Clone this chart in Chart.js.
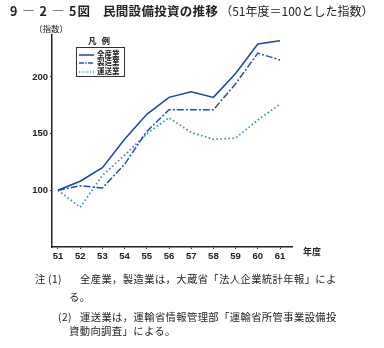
<!DOCTYPE html>
<html>
<head>
<meta charset="utf-8">
<script src="https://cdn.jsdelivr.net/npm/chart.js@4.4.1/dist/chart.umd.min.js"></script>
<style>
  html, body { margin: 0; padding: 0; background: #fff; }
  #wrap { position: relative; width: 384px; height: 348px; overflow: hidden;
    font-family: "Noto Sans CJK JP", "Noto Sans", sans-serif; color: #222; }
  #wrap canvas { position: absolute; left: 0; top: 0; }
  .t { position: absolute; white-space: nowrap; line-height: 1; }
  #title { left: 10px; top: 5px; font-size: 12.5px; font-weight: bold; }
  #title .num { letter-spacing: 1px; }
  #title .main { margin-left: 12px; letter-spacing: 0.3px; }
  #title .sub { font-size: 12px; font-weight: normal; margin-left: 2px; }
  #unit { left: 34px; top: 24px; font-size: 8.5px; }
  #year { left: 303px; top: 247px; font-size: 9px; font-weight: bold; }
  #legTitle { left: 88px; top: 36px; font-size: 8.5px; font-weight: bold; letter-spacing: 5px; }
  #legend { position: absolute; left: 76px; top: 47px; width: 49px; height: 30px;
    border: 1.2px solid #333; box-sizing: border-box; }
  .li { position: absolute; left: 2px; width: 45px; height: 8px; font-size: 7.5px; font-weight: bold; white-space: nowrap; line-height: 1; }
  .li svg { position: absolute; left: 0; top: 2px; }
  .li span { position: absolute; left: 18px; top: -1px; }
  .note { font-size: 10.3px; letter-spacing: 0.4px; }
</style>
</head>
<body>
<div id="wrap">
  <canvas id="c" width="384" height="348"></canvas>
  <div class="t" id="title"><span class="num">9 ― 2 ― 5図</span><span class="main">民間設備投資の推移</span><span class="sub">（51年度＝100とした指数）</span></div>
  <div class="t" id="unit">（指数）</div>
  <div class="t" id="year">年度</div>
  <div class="t" id="legTitle">凡例</div>
  <div id="legend"></div>
  <div class="t note" style="left:35px;top:274px;">注</div>
  <div class="t note" style="left:48px;top:274px;">(1)</div>
  <div class="t note" style="left:80px;top:274px;">全産業，製造業は，大蔵省「法人企業統計年報」によ</div>
  <div class="t note" style="left:69px;top:292px;">る。</div>
  <div class="t note" style="left:58px;top:312px;">(2)</div>
  <div class="t note" style="left:80px;top:312px;">運送業は，運輸省情報管理部「運輸省所管事業設備投</div>
  <div class="t note" style="left:69px;top:326px;">資動向調査」による。</div>
</div>
<script>
  const years = [51, 52, 53, 54, 55, 56, 57, 58, 59, 60, 61];
  const allIndustry = [100, 108, 120, 145, 167, 182, 187, 182, 203, 229, 232];
  const manufacturing = [100, 104, 102, 123, 152, 171, 171, 171, 194, 221, 215];
  const transport = [100, 85, 113, 131, 150, 164, 151, 145, 146, 162, 176];
  const yTicks = [100, 150, 200];

  const seriesNames = ['全産業', '製造業', '運送業'];
  const seriesColors = ['#1644b4', '#1a50c4', '#3a84e4'];
  const seriesDash = [[], [7, 2, 2, 2], [1.5, 2.5]];

  const toPoints = (vals) => vals.map((v, i) => ({ x: years[i], y: v }));

  // legend built in HTML so the text stays text
  const leg = document.getElementById('legend');
  seriesNames.forEach((name, i) => {
    const row = document.createElement('div');
    row.className = 'li';
    row.style.top = (2.5 + i * 8.5) + 'px';
    const dash = seriesDash[i].length ? `stroke-dasharray="${seriesDash[i].map(d => d * 0.7).join(',')}"` : '';
    row.innerHTML = `<svg width="15" height="4"><line x1="0" y1="2" x2="15" y2="2" stroke="${seriesColors[i]}" stroke-width="1.5" ${dash}/></svg><span>${name}</span>`;
    leg.appendChild(row);
  });

  const data = [allIndustry, manufacturing, transport];

  new Chart(document.getElementById('c'), {
    type: 'line',
    data: {
      datasets: data.map((vals, i) => ({
        label: seriesNames[i],
        data: toPoints(vals),
        borderColor: seriesColors[i],
        borderWidth: i === 2 ? 1.8 : 1.5,
        borderDash: seriesDash[i],
        pointRadius: 0,
        tension: 0,
        fill: false
      }))
    },
    options: {
      responsive: false,
      animation: false,
      devicePixelRatio: 1,
      layout: { padding: { left: 0, top: 35, right: 92, bottom: 81 } },
      plugins: { legend: { display: false }, tooltip: { enabled: false } },
      scales: {
        x: {
          type: 'linear',
          min: 50.73,
          max: 61.54,
          afterBuildTicks: (s) => { s.ticks = years.map(v => ({ value: v })); },
          afterFit: (s) => { s.height = 20; },
          grid: { drawOnChartArea: false, tickLength: 2, color: '#333' },
          border: { color: '#222', width: 1.5 },
          ticks: { color: '#222', font: { family: 'Liberation Sans', size: 9.5, weight: 'bold' }, padding: 2, maxRotation: 0 }
        },
        y: {
          min: 50,
          max: 237,
          afterBuildTicks: (s) => { s.ticks = yTicks.map(v => ({ value: v })); },
          afterFit: (s) => { s.width = 52; },
          grid: { drawOnChartArea: false, tickLength: 2, color: '#333' },
          border: { color: '#222', width: 1.5 },
          ticks: { color: '#222', font: { family: 'Liberation Sans', size: 9.5, weight: 'bold' }, padding: 2 }
        }
      }
    }
  });
</script>
</body>
</html>
